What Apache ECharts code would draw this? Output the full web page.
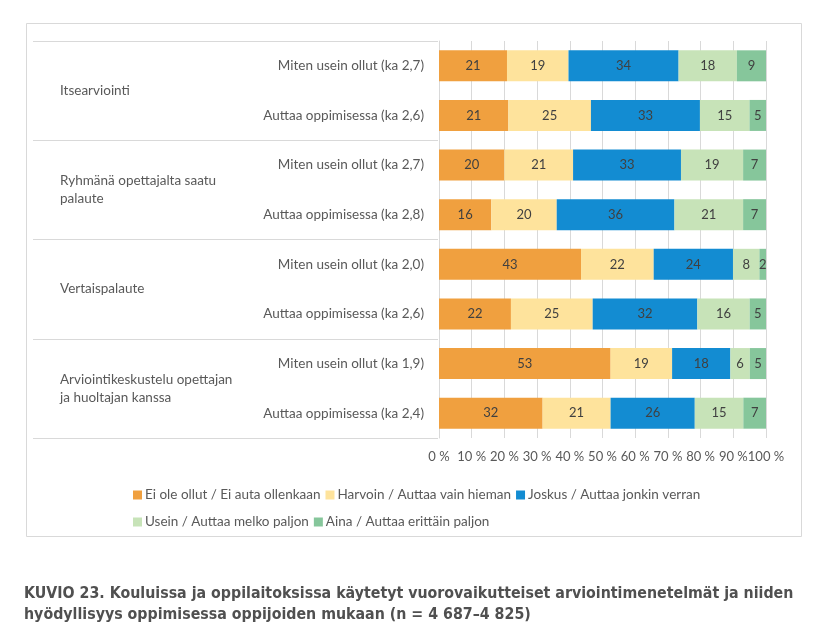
<!DOCTYPE html>
<html><head><meta charset="utf-8">
<script src="https://cdn.jsdelivr.net/npm/echarts@6/dist/echarts.min.js"></script>
<style>html,body{margin:0;padding:0;background:#fff}#c{width:828px;height:639px}</style>
</head><body><div id="c"></div>
<script>
const groups = ['Itsearviointi', 'Ryhmänä opettajalta saatu\npalaute', 'Vertaispalaute', 'Arviointikeskustelu opettajan\nja huoltajan kanssa'];
const rows = ['Miten usein ollut (ka 2,7)', 'Auttaa oppimisessa (ka 2,6)', 'Miten usein ollut (ka 2,7)', 'Auttaa oppimisessa (ka 2,8)', 'Miten usein ollut (ka 2,0)', 'Auttaa oppimisessa (ka 2,6)', 'Miten usein ollut (ka 1,9)', 'Auttaa oppimisessa (ka 2,4)'];
const seriesNames = ['Ei ole ollut / Ei auta ollenkaan', 'Harvoin / Auttaa vain hieman', 'Joskus / Auttaa jonkin verran', 'Usein / Auttaa melko paljon', 'Aina / Auttaa erittäin paljon'];
const eiOle = [21, 21, 20, 16, 43, 22, 53, 32];
const harvoin = [19, 25, 21, 20, 22, 25, 19, 21];
const joskus = [34, 33, 33, 36, 24, 32, 18, 26];
const usein = [18, 15, 19, 21, 8, 16, 6, 15];
const aina = [9, 5, 7, 7, 2, 5, 5, 7];
const xTicks = [0, 10, 20, 30, 40, 50, 60, 70, 80, 90, 100];
const caption = 'KUVIO 23. Kouluissa ja oppilaitoksissa käytetyt vuorovaikutteiset arviointimenetelmät ja niiden\nhyödyllisyys oppimisessa oppijoiden mukaan (n = 4 687–4 825)';

const colors = ['#F0A03F', '#FEE39C', '#138CD2', '#C7E3B8', '#86C69B'];
const allVals = [eiOle, harvoin, joskus, usein, aina];
const totals = rows.map((_, i) => allVals.reduce((s, a) => s + a[i], 0));
const FONT = 'Lato, "Open Sans", sans-serif';

const chart = echarts.init(document.getElementById('c'), null, {renderer: 'canvas'});
chart.setOption({
  animation: false,
  backgroundColor: '#fff',
  color: colors,
  textStyle: {fontFamily: FONT},
  title: {
    text: caption, left: 19, top: 578,
    textStyle: {fontFamily: '"DejaVu Sans Condensed", "DejaVu Sans", sans-serif', fontSize: 15.8, fontWeight: 'bold', color: '#505050', lineHeight: 21}
  },
  graphic: [{type: 'rect', shape: {x: 26.5, y: 23.5, width: 775, height: 513}, style: {fill: 'none', stroke: '#d9d9d9', lineWidth: 1}, silent: true}],
  legend: [
    {data: seriesNames.slice(0, 3), left: 128, top: 483, itemWidth: 9, itemHeight: 9, itemGap: 5, icon: 'rect',
      textStyle: {fontFamily: FONT, fontSize: 13.5, color: '#595959', padding: [0, 0, 0, -2]}},
    {data: seriesNames.slice(3), left: 128, top: 510, itemWidth: 9, itemHeight: 9, itemGap: 5, icon: 'rect',
      textStyle: {fontFamily: FONT, fontSize: 13.5, color: '#595959', padding: [0, 0, 0, -2]}}
  ],
  grid: [
    {left: 439, right: 62, top: 41, bottom: 201},
    {left: 33, width: 405, top: 41, bottom: 201}
  ],
  xAxis: [
    {gridIndex: 0, type: 'value', min: 0, max: 100, interval: 10,
      axisLine: {show: false}, axisTick: {show: false},
      splitLine: {show: true, lineStyle: {color: '#d9d9d9', width: 1}},
      axisLabel: {formatter: v => v + ' %', fontSize: 13, color: '#595959', margin: 12, fontFamily: FONT}},
    {gridIndex: 1, type: 'value', show: false}
  ],
  yAxis: [
    {gridIndex: 0, type: 'category', data: rows, inverse: true,
      axisLine: {show: true, lineStyle: {color: '#d9d9d9'}}, axisTick: {show: false},
      axisLabel: {fontSize: 13.5, color: '#595959', margin: 15, fontFamily: FONT}},
    {gridIndex: 1, type: 'category', data: groups, inverse: true,
      axisLine: {show: false}, axisTick: {show: false},
      splitLine: {show: true, lineStyle: {color: '#d9d9d9', width: 1}},
      axisLabel: {inside: true, margin: 27, fontSize: 13.5, color: '#595959', lineHeight: 18, fontFamily: FONT, align: 'left'}}
  ],
  series: allVals.map((arr, si) => ({
    name: seriesNames[si], type: 'bar', stack: 'total', xAxisIndex: 0, yAxisIndex: 0,
    barWidth: 31,
    data: arr.map((v, i) => v / totals[i] * 100),
    label: {show: true, position: 'inside', fontSize: 13, color: '#404040', fontFamily: FONT,
      formatter: p => String(arr[p.dataIndex])},
    itemStyle: {color: colors[si]}
  }))
});
</script></body></html>
